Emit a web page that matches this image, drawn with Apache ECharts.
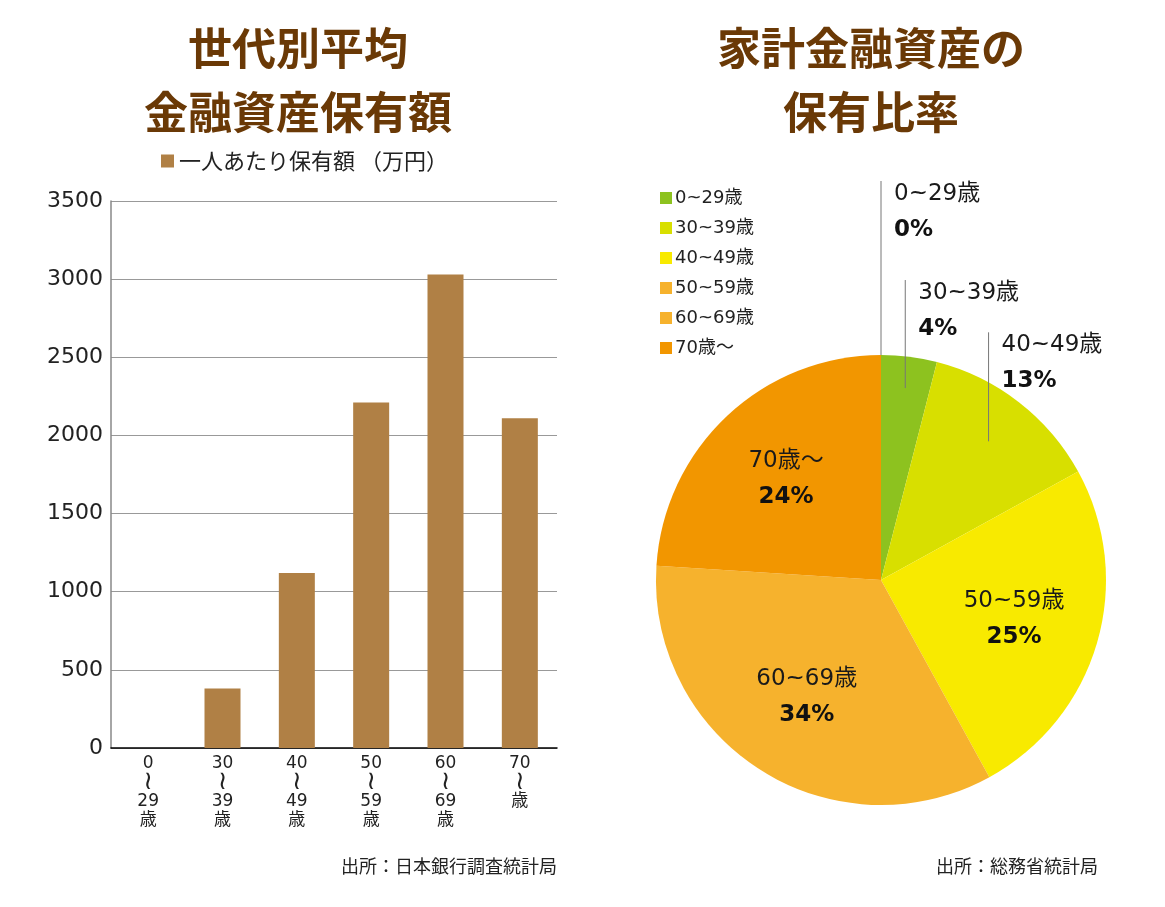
<!DOCTYPE html>
<html>
<head>
<meta charset="utf-8">
<script src="https://cdn.jsdelivr.net/npm/echarts@6/dist/echarts.min.js"></script>
<style>
  html, body { margin: 0; background: #fff; }
  #chart { width: 1165px; height: 907px; }
</style>
</head>
<body>
<div id="chart"></div>
<script>
// bar chart data
const barName = '一人あたり保有額（万円）';
const barCategories = ['0\n≀\n29\n歳', '30\n≀\n39\n歳', '40\n≀\n49\n歳', '50\n≀\n59\n歳', '60\n≀\n69\n歳', '70\n≀\n歳'];
const barValues = [0, 380, 1120, 2210, 3030, 2110];

// pie chart data
const pieNames = ['0~29歳', '30~39歳', '40~49歳', '50~59歳', '60~69歳', '70歳～'];
const pieValues = [0, 4, 13, 25, 34, 24];
const pieColors = ['#8dc21f', '#8dc21f', '#d8df00', '#f8ea00', '#f6b22d', '#f29600'];
const legendColors = ['#8dc21f', '#d8df00', '#f8ea00', '#f6b22d', '#f6b22d', '#f29600'];

const font = '"DejaVu Sans", "Noto Sans CJK JP", sans-serif';
const cjkFont = '"Noto Sans CJK JP", sans-serif';
const brown = '#6a3906';

// pie geometry + leader lines for the small slices
const pieCenter = [881, 580];
const pieRadius = 225;
const leaderAnchor = [1.0, 0.86, 0.78];
const leaderLength = [174, 108, 109];

const labelRich = {
    n: { fontSize: 23, lineHeight: 36, color: '#1a1a1a', fontFamily: font },
    p: { fontSize: 23, lineHeight: 36, fontWeight: 'bold', color: '#111', fontFamily: font }
};

const chart = echarts.init(document.getElementById('chart'));

chart.setOption({
    animation: false,
    textStyle: { fontFamily: font },
    title: [
        {
            text: '世代別平均\n金融資産保有額',
            left: 298, top: 16, textAlign: 'center', padding: 0,
            textStyle: { fontSize: 44, fontWeight: 'bold', lineHeight: 64, color: brown, fontFamily: cjkFont }
        },
        {
            text: '家計金融資産の\n保有比率',
            left: 871, top: 16, textAlign: 'center', padding: 0,
            textStyle: { fontSize: 44, fontWeight: 'bold', lineHeight: 64, color: brown, fontFamily: cjkFont }
        }
    ],
    legend: [
        {
            data: [barName],
            left: 161, top: 148, padding: 0,
            icon: 'rect', itemWidth: 13, itemHeight: 13,
            textStyle: { fontSize: 22, lineHeight: 26, color: '#222', fontFamily: cjkFont },
            formatter: n => n.replace('（', ' （')
        },
        {
            data: pieNames.map((n, i) => ({ name: n, itemStyle: { color: legendColors[i] } })),
            orient: 'vertical',
            left: 660, top: 188, padding: 0,
            icon: 'rect', itemWidth: 12, itemHeight: 12, itemGap: 10,
            textStyle: { fontSize: 18, lineHeight: 20, color: '#222', fontFamily: font, padding: [0, 0, 0, -2] }
        }
    ],
    grid: { left: 111, right: 608, top: 201, bottom: 159 },
    xAxis: {
        type: 'category',
        data: barCategories,
        axisTick: { show: false },
        axisLine: { lineStyle: { color: '#000', width: 1.5 } },
        axisLabel: {
            interval: 0, margin: 6,
            formatter: v => v.split('\n').map(s => (s === '≀' ? '{t|' : '{d|') + s + '}').join('\n'),
            rich: {
                d: { fontSize: 17, lineHeight: 19, color: '#222', fontFamily: font },
                t: { fontSize: 26, lineHeight: 19, color: '#222', fontFamily: font }
            }
        }
    },
    yAxis: {
        type: 'value',
        min: 0, max: 3500, interval: 500,
        axisLine: { show: true, lineStyle: { color: '#888', width: 1.5 } },
        axisTick: { show: false },
        splitLine: { lineStyle: { color: '#999', width: 1 } },
        axisLabel: { color: '#222', fontSize: 22, margin: 8, fontFamily: font, formatter: v => String(v) }
    },
    series: [
        {
            name: barName,
            type: 'bar',
            data: barValues,
            barWidth: 36,
            itemStyle: { color: '#b08045' }
        },
        {
            // coloured slices with the labels that sit inside
            name: '保有比率',
            type: 'pie',
            center: pieCenter,
            radius: pieRadius,
            startAngle: 90,
            clockwise: true,
            avoidLabelOverlap: false,
            data: pieNames.map((n, i) => ({
                name: n,
                value: pieValues[i],
                itemStyle: { color: pieColors[i] },
                label: { show: i >= 3 }
            })),
            label: {
                position: 'inside',
                formatter: '{n|{b}}\n{p|{c}%}',
                rich: labelRich
            },
            labelLine: { show: false },
            labelLayout: function (p) {
                const r = p.labelRect;
                const cx = r.x + r.width / 2;
                const cy = r.y + r.height / 2;
                return {
                    x: pieCenter[0] + (cx - pieCenter[0]) * 1.2,
                    y: pieCenter[1] + (cy - pieCenter[1]) * 1.2,
                    align: 'center', verticalAlign: 'middle'
                };
            }
        },
        {
            // transparent copy on top, only for the leader-line labels
            name: '保有比率ラベル',
            type: 'pie',
            z: 3,
            silent: true,
            legendHoverLink: false,
            center: pieCenter,
            radius: pieRadius,
            startAngle: 90,
            clockwise: true,
            avoidLabelOverlap: false,
            data: pieNames.map((n, i) => ({
                name: n,
                value: pieValues[i],
                itemStyle: { color: 'rgba(0,0,0,0)' },
                label: { show: i < 3 },
                labelLine: { show: i < 3 }
            })),
            label: {
                position: 'outside',
                formatter: '{n|{b}}\n{p|{c}%}',
                rich: labelRich
            },
            labelLine: { length: 10, length2: 10, lineStyle: { color: '#777', width: 1 } },
            labelLayout: function (p) {
                const i = p.dataIndex;
                if (i >= 3 || !p.labelLinePoints) return {};
                const pt = p.labelLinePoints[0];
                const dx = pt[0] - pieCenter[0];
                const dy = pt[1] - pieCenter[1];
                const len = Math.sqrt(dx * dx + dy * dy) || 1;
                const ax = pieCenter[0] + dx / len * pieRadius * leaderAnchor[i];
                const ay = pieCenter[1] + dy / len * pieRadius * leaderAnchor[i];
                const top = ay - leaderLength[i];
                return {
                    x: ax + 13, y: top - 5, align: 'left', verticalAlign: 'top',
                    labelLinePoints: [[ax, ay], [ax, top], [ax, top]]
                };
            }
        }
    ],
    graphic: [
        {
            type: 'text', right: 1165 - 557, top: 857,
            style: { text: '出所：日本銀行調査統計局', font: '18px ' + cjkFont, fill: '#222' }
        },
        {
            type: 'text', right: 1165 - 1098, top: 857,
            style: { text: '出所：総務省統計局', font: '18px ' + cjkFont, fill: '#222' }
        }
    ]
});
</script>
</body>
</html>
